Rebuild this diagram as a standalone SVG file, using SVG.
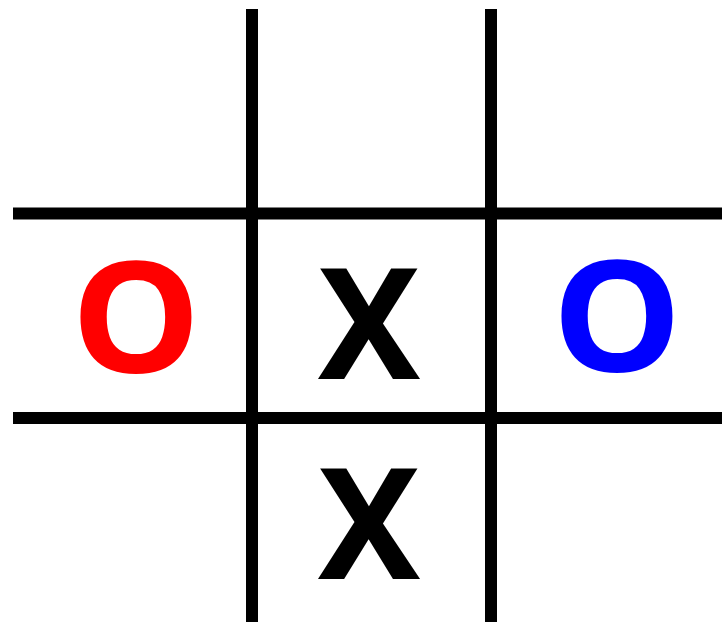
<svg xmlns="http://www.w3.org/2000/svg" width="722" height="622" viewBox="0 0 722 622">
<style>
.grid line{stroke:#000;stroke-width:12}
.m{font-family:"Noto Sans",sans-serif;font-weight:bold;font-size:154px;text-anchor:middle}
.o{font-size:154px}
</style>
<rect width="722" height="622" fill="#fff"/>
<g id="connectors" class="grid">
<line x1="252" y1="9" x2="252" y2="622"/>
<line x1="491" y1="9" x2="491" y2="622"/>
<line x1="13" y1="213.5" x2="722" y2="213.5"/>
<line x1="13" y1="418" x2="722" y2="418"/>
</g>
<g id="o-red"><text class="m o" transform="translate(136,372) scale(1.06,1)" fill="#f00">O</text></g>
<g id="x-center"><text class="m" x="369" y="379" fill="#000">X</text></g>
<g id="o-blue"><text class="m o" transform="translate(617,371) scale(1.06,1)" fill="#00f">O</text></g>
<g id="x-bottom"><text class="m" x="369" y="579" fill="#000">X</text></g>
</svg>
